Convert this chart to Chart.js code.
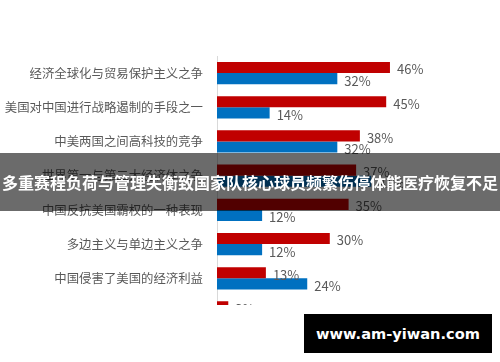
<!DOCTYPE html>
<html>
<head>
<meta charset="utf-8">
<script src="https://cdn.jsdelivr.net/npm/chart.js@4"></script>
<style>
  body { margin: 0; background: #fff; }
  #page { position: relative; width: 500px; height: 362px; overflow: hidden; }
  #clip { position: absolute; left: 0; top: 0; width: 500px; height: 305px; overflow: hidden; }
  #banner {
    position: absolute; left: 0; top: 153px; width: 500px; height: 58px;
    background: rgba(0, 0, 0, 0.58); color: #fff;
    font: bold 16px "Noto Sans CJK SC", sans-serif;
    line-height: 58px; text-align: center; white-space: nowrap;
  }
  #mark {
    position: absolute; left: 304px; top: 314px; width: 188px; height: 39px;
    background: #000; color: #fff;
    font: bold 14.6px "DejaVu Sans", sans-serif;
    line-height: 39px; text-align: center;
  }
</style>
</head>
<body>
<div id="page">
  <div id="clip">
    <canvas id="chart" width="500" height="351"></canvas>
  </div>
  <div id="banner">多重赛程负荷与管理失衡致国家队核心球员频繁伤停体能医疗恢复不足</div>
  <div id="mark">www.am-yiwan.com</div>
</div>
<script>
// Categories (top to bottom)
const categories = [
  '经济全球化与贸易保护主义之争',
  '美国对中国进行战略遏制的手段之一',
  '中美两国之间高科技的竞争',
  '世界第一与第二大经济体之争',
  '中国反抗美国霸权的一种表现',
  '多边主义与单边主义之争',
  '中国侵害了美国的经济利益',
  '两党政治的需要'
];

// Series values (%)
const redValues = [46, 45, 38, 37, 35, 30, 13, 3];
const blueValues = [32, 14, 32, 41, 12, 12, 24, 10];

// Draw the "xx%" next to each bar
const valueLabels = {
  id: 'valueLabels',
  afterDatasetsDraw(chart) {
    const ctx = chart.ctx;
    ctx.save();
    ctx.font = '13px "Noto Sans CJK SC"';
    ctx.fillStyle = '#595959';
    ctx.textBaseline = 'middle';
    chart.data.datasets.forEach((ds, i) => {
      chart.getDatasetMeta(i).data.forEach((bar, j) => {
        ctx.fillText(ds.data[j] + '%', bar.x + 7, bar.y + 2);
      });
    });
    ctx.restore();
  }
};

new Chart(document.getElementById('chart'), {
  type: 'bar',
  data: {
    labels: categories,
    datasets: [
      { label: '系列1', data: redValues, backgroundColor: '#c00000' },
      { label: '系列2', data: blueValues, backgroundColor: '#0070c0' }
    ]
  },
  options: {
    indexAxis: 'y',
    responsive: false,
    animation: false,
    layout: { padding: { top: 56, right: 95, bottom: 0, left: 0 } },
    datasets: { bar: { categoryPercentage: 0.65, barPercentage: 1.0 } },
    plugins: { legend: { display: false }, tooltip: { enabled: false } },
    scales: {
      x: { display: false, min: 0, max: 50 },
      y: {
        afterFit(scale) { scale.width = 217; },
        grid: { display: false, drawTicks: false },
        border: { display: true, color: '#d9d9d9', width: 1 },
        ticks: { padding: 14, color: '#595959', font: { family: '"Noto Sans CJK SC"', size: 12.4 } }
      }
    }
  },
  plugins: [valueLabels]
});
</script>
</body>
</html>
